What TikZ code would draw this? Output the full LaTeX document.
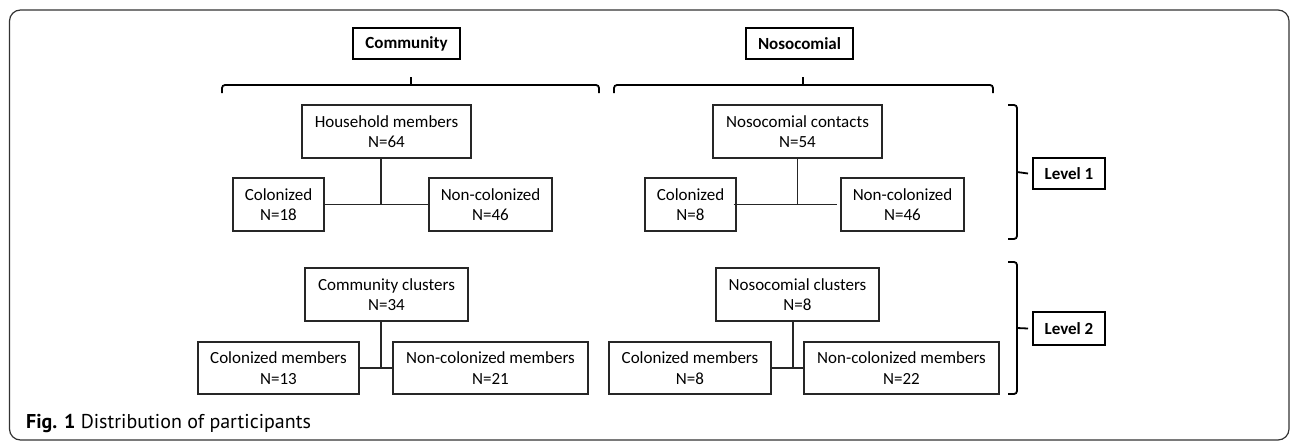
\documentclass[tikz,border=0pt]{standalone}
\usepackage{fontspec}
\setmainfont{Carlito}
\newfontfamily\capfont{PT Sans}
\begin{document}
\begin{tikzpicture}[x=1pt,y=-1pt,
  box/.style={draw=black!85, line width=1.1pt, align=center, inner sep=0pt,
    font=\fontsize{17}{20.5}\selectfont},
  headbox/.style={draw=black, line width=1.8pt, align=center, inner sep=0pt,
    font=\fontsize{17}{20.5}\selectfont\bfseries},
  conn/.style={draw=black!85, line width=1.3pt},
  brace/.style={draw=black, line width=1.8pt, rounded corners=3pt}]
\useasboundingbox (0,0) rectangle (1296,442);
\draw[line width=1.2pt, black!80, rounded corners=11pt] (9.5,10) rectangle (1289,440);

% headers
\node[headbox, minimum width=107, minimum height=31] (comm) at (406.5,43.5) {Community};
\node[headbox, minimum width=107, minimum height=31] (noso) at (799.5,43.5) {Nosocomial};

% top braces
\coordinate (b1l) at (222,93);
\coordinate (b1r) at (599,93);
\coordinate (b1t) at (411,77);
\draw[brace] (b1l) -- (222,85) -- (599,85) -- (b1r);
\draw[brace] (411,85) -- (b1t);
\coordinate (b2l) at (614,93);
\coordinate (b2r) at (993,93);
\coordinate (b2t) at (803,77);
\draw[brace] (b2l) -- (614,85) -- (993,85) -- (b2r);
\draw[brace] (803,85) -- (b2t);

% level 1 community
\node[box, minimum width=169, minimum height=53] (hh) at (386.5,131.5) {Household members\\N=64};
\node[box, minimum width=91, minimum height=53] (c1) at (278.5,204.5) {Colonized\\N=18};
\node[box, minimum width=123, minimum height=53] (n1) at (490.5,204.5) {Non-colonized\\N=46};
\draw[conn] (c1.east) -- (n1.west);
\draw[conn] ([xshift=-5.5pt]hh.south) -- ([xshift=-5.5pt]hh.south |- c1.east);

% level 1 nosocomial
\node[box, minimum width=169, minimum height=53] (nc) at (797.5,131.5) {Nosocomial contacts\\N=54};
\node[box, minimum width=91, minimum height=53] (c2) at (690.5,204.5) {Colonized\\N=8};
\node[box, minimum width=123, minimum height=53] (n2) at (902.5,204.5) {Non-colonized\\N=46};
\draw[conn] ([xshift=-3pt]c2.east) -- ([xshift=-3pt]n2.west);
\draw[conn] (nc.south) -- (nc.south |- c2.east);

% level 2 community
\node[box, minimum width=163, minimum height=53] (cc) at (386.5,294.5) {Community clusters\\N=34};
\node[box, minimum width=161, minimum height=52] (cm1) at (278.5,368) {Colonized members\\N=13};
\node[box, minimum width=195, minimum height=52] (ncm1) at (490.5,368) {Non-colonized members\\N=21};
\draw[conn] (cm1.east) -- (ncm1.west);
\draw[conn] ([xshift=-5.5pt]cc.south) -- ([xshift=-5.5pt]cc.south |- cm1.east);

% level 2 nosocomial
\node[box, minimum width=163, minimum height=53] (ncl) at (797.5,294.5) {Nosocomial clusters\\N=8};
\node[box, minimum width=162, minimum height=52] (cm2) at (690,368) {Colonized members\\N=8};
\node[box, minimum width=195, minimum height=52] (ncm2) at (901.5,368) {Non-colonized members\\N=22};
\draw[conn] (cm2.east) -- (ncm2.west);
\draw[conn] ([xshift=-4.5pt]ncl.south) -- ([xshift=-4.5pt]ncl.south |- cm2.east);

% level labels and right braces
\node[headbox, minimum width=72, minimum height=31] (L1) at (1069,173.5) {Level 1};
\node[headbox, minimum width=72, minimum height=33] (L2) at (1069,328.5) {Level 2};
\draw[brace] (1008,105) -- (1017,105) -- (1017,239) -- (1008,239);
\draw[brace, rounded corners=0pt] (1017,172) -- (L1.west -| 1028,0);
\draw[brace] (1008,262) -- (1017,262) -- (1017,394) -- (1008,394);
\draw[brace, rounded corners=0pt] (1017,328) -- (L2.west -| 1028,0);

% caption
\node[anchor=base west, inner sep=0pt, font=\capfont\fontsize{20}{24}\selectfont] (cap) at (26,428)
  {\textbf{Fig. 1} Distribution of participants};
\end{tikzpicture}
\end{document}
